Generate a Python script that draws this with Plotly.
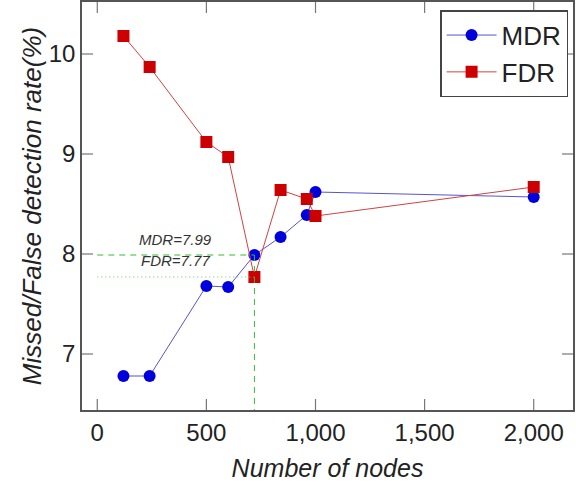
import plotly.graph_objects as go

nodes = [120, 240, 500, 600, 720, 840, 960, 1000, 2000]
mdr = [6.78, 6.78, 7.68, 7.67, 7.99, 8.17, 8.39, 8.62, 8.57]
fdr = [10.18, 9.87, 9.12, 8.97, 7.77, 8.64, 8.55, 8.38, 8.67]
x_ticks = [0, 500, 1000, 1500, 2000]
y_ticks = [7, 8, 9, 10]
best_x = 720
best_mdr = 7.99
best_fdr = 7.77

font = "Liberation Sans"
txt = "#222222"
tick_col = "#777777"
x_range = [-70, 2180]
y_range = [6.44, 10.52]

fig = go.Figure()
fig.add_trace(go.Scatter(x=nodes, y=mdr, mode="lines+markers", name="MDR",
                         line=dict(color="#5555cc", width=1),
                         marker=dict(symbol="circle", size=12, color="#0000dd")))
fig.add_trace(go.Scatter(x=nodes, y=fdr, mode="lines+markers", name="FDR",
                         line=dict(color="#cc4444", width=1),
                         marker=dict(symbol="square", size=12, color="#cc0000")))
# guide lines
fig.add_trace(go.Scatter(x=[0, best_x], y=[best_mdr, best_mdr], mode="lines", showlegend=False,
                         line=dict(color="#33bb33", width=1, dash="6px,5px"), hoverinfo="skip"))
fig.add_trace(go.Scatter(x=[best_x, best_x], y=[best_mdr, y_range[0]], mode="lines", showlegend=False,
                         line=dict(color="#33bb33", width=1, dash="6px,5px"), hoverinfo="skip"))
fig.add_trace(go.Scatter(x=[0, best_x], y=[best_fdr, best_fdr], mode="lines", showlegend=False,
                         line=dict(color="#66cc66", width=1, dash="1px,3px"), hoverinfo="skip"))

fig.add_annotation(x=360, y=best_mdr, text=f"<i>MDR={best_mdr}</i>", showarrow=False,
                   yanchor="bottom", yshift=5, font=dict(family=font, size=15, color="#333333"))
fig.add_annotation(x=360, y=best_mdr, text=f"<i>FDR={best_fdr}</i>", showarrow=False,
                   yanchor="top", yshift=5, font=dict(family=font, size=15, color="#333333"))

# inside tick marks on all four sides (positions from the tick lists, via axis scales)
tick_px = 11
plot_w, plot_h = 576 - 82 - 3, 486 - 2 - 76
for tv in x_ticks:
    fig.add_shape(type="line", xref="x", yref="paper", x0=tv, x1=tv, y0=0, y1=tick_px / plot_h,
                  line=dict(color=tick_col, width=1.2), layer="above")
    fig.add_shape(type="line", xref="x", yref="paper", x0=tv, x1=tv, y0=1, y1=1 - tick_px / plot_h,
                  line=dict(color=tick_col, width=1.2), layer="above")
for tv in y_ticks:
    fig.add_shape(type="line", xref="paper", yref="y", y0=tv, y1=tv, x0=0, x1=tick_px / plot_w,
                  line=dict(color=tick_col, width=1.2), layer="above")
    fig.add_shape(type="line", xref="paper", yref="y", y0=tv, y1=tv, x0=1, x1=1 - tick_px / plot_w,
                  line=dict(color=tick_col, width=1.2), layer="above")

axis_common = dict(showgrid=False, zeroline=False, showline=True, linecolor="#555555", linewidth=1.5,
                   mirror=True, ticks="", tickfont=dict(family=font, size=24, color=txt))
fig.update_xaxes(range=x_range, tickmode="array", tickvals=x_ticks, tickformat=",",
                 title=dict(text="<i>Number of nodes</i>", font=dict(family=font, size=25, color=txt)),
                 **axis_common)
fig.update_yaxes(range=y_range, tickmode="array", tickvals=y_ticks,
                 title=dict(text="<i>Missed/False detection rate(%)</i>", font=dict(family=font, size=26, color=txt),
                            standoff=0),
                 automargin=True,
                 **axis_common)
fig.update_layout(
    width=576, height=486, margin=dict(l=82, r=3, t=2, b=76, autoexpand=False),
    plot_bgcolor="white", paper_bgcolor="white",
    legend=dict(x=0.99, y=0.98, xanchor="right", yanchor="top",
                bordercolor="#444444", borderwidth=1.5, bgcolor="white",
                itemwidth=50,
                font=dict(family=font, size=26, color=txt)),
    showlegend=True)
fig.write_html("out.html")
